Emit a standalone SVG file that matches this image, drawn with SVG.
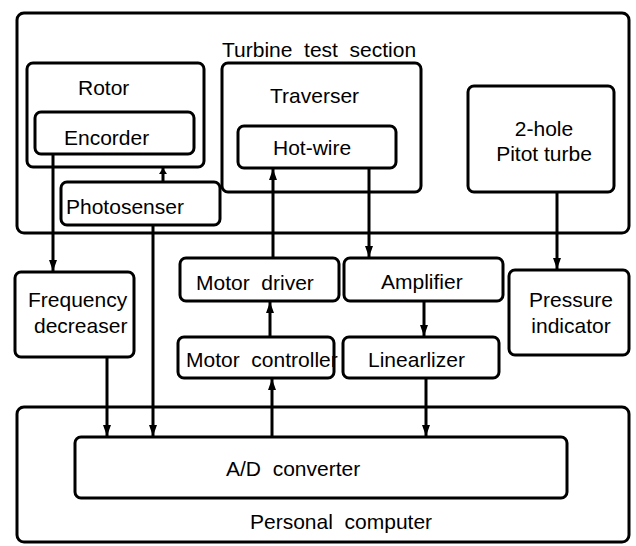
<svg xmlns="http://www.w3.org/2000/svg" width="636" height="546" viewBox="0 0 636 546">
<style>
.box{fill:none;stroke:#000;stroke-width:3}
.t{font-family:"Liberation Sans",Arial,sans-serif;font-size:21px;fill:#000;white-space:pre}
.c{text-anchor:middle}
.ln{stroke:#000;stroke-width:3;fill:none;marker-end:url(#ah)}
.sm{stroke:#000;stroke-width:3;fill:none;marker-end:url(#ahs)}
</style>
<defs>
<marker id="ah" markerUnits="userSpaceOnUse" markerWidth="12" markerHeight="8" refX="11" refY="4" orient="auto"><path d="M0,0 L11,4 L0,8 z" fill="#000"/></marker>
<marker id="ahs" markerUnits="userSpaceOnUse" markerWidth="7" markerHeight="8" refX="6" refY="4" orient="auto"><path d="M0,0 L6,4 L0,8 z" fill="#000"/></marker>
</defs>
<rect width="636" height="546" fill="#fff"/>
<g id="turbine"><rect class="box" x="17" y="13" width="612" height="220" rx="7"/><text class="t" x="222" y="57">Turbine  test  section</text></g>
<g id="rotor"><rect class="box" x="27" y="63" width="177" height="104" rx="6"/><text class="t" x="78" y="95">Rotor</text></g>
<g id="encorder"><rect class="box" x="35" y="112" width="159" height="42" rx="6"/><text class="t" x="64" y="145">Encorder</text></g>
<g id="traverser"><rect class="box" x="222" y="63" width="199" height="129" rx="6"/><text class="t" x="270" y="103">Traverser</text></g>
<g id="hotwire"><rect class="box" x="238" y="126" width="158" height="42" rx="6"/><text class="t" x="273" y="155">Hot-wire</text></g>
<g id="photosenser"><rect class="box" x="61" y="182" width="159" height="43" rx="6"/><text class="t" x="66" y="214">Photosenser</text></g>
<g id="pitot"><rect class="box" x="468" y="86" width="146" height="106" rx="6"/><text class="t c" x="544" y="136">2-hole</text><text class="t c" x="544" y="161">Pitot turbe</text></g>
<g id="freq"><rect class="box" x="15" y="272" width="119" height="85" rx="6"/><text class="t" x="28" y="307">Frequency</text><text class="t" x="34" y="333">decreaser</text></g>
<g id="motordriver"><rect class="box" x="180" y="258" width="159" height="43" rx="6"/><text class="t" x="196" y="290">Motor  driver</text></g>
<g id="amplifier"><rect class="box" x="344" y="258" width="159" height="43" rx="6"/><text class="t" x="381" y="289">Amplifier</text></g>
<g id="pressure"><rect class="box" x="509" y="270" width="120" height="85" rx="6"/><text class="t c" x="571" y="307">Pressure</text><text class="t c" x="571" y="333">indicator</text></g>
<g id="motorcontroller"><rect class="box" x="178" y="337" width="156" height="41" rx="6"/><text class="t" x="186" y="367">Motor  controller</text></g>
<g id="linearlizer"><rect class="box" x="343" y="337" width="156" height="41" rx="6"/><text class="t" x="368" y="367">Linearlizer</text></g>
<g id="pc"><rect class="box" x="17" y="407" width="612" height="135" rx="7"/><text class="t" x="250" y="529">Personal  computer</text></g>
<g id="ad"><rect class="box" x="75" y="437" width="492" height="61" rx="6"/><text class="t" x="226" y="476">A/D  converter</text></g>
<g id="connectors">
<line class="ln" x1="53" y1="154" x2="53" y2="271"/>
<line class="ln" x1="153" y1="225" x2="153" y2="436"/>
<line class="sm" x1="163" y1="182" x2="163" y2="168"/>
<line class="ln" x1="273" y1="258" x2="273" y2="169"/>
<line class="ln" x1="369" y1="168" x2="369" y2="257"/>
<line class="ln" x1="557" y1="192" x2="557" y2="269"/>
<line class="ln" x1="270" y1="337" x2="270" y2="302"/>
<line class="ln" x1="272" y1="437" x2="272" y2="379"/>
<line class="ln" x1="107" y1="357" x2="107" y2="436"/>
<line class="ln" x1="424" y1="301" x2="424" y2="336"/>
<line class="ln" x1="426" y1="378" x2="426" y2="436"/>
</g>
</svg>
